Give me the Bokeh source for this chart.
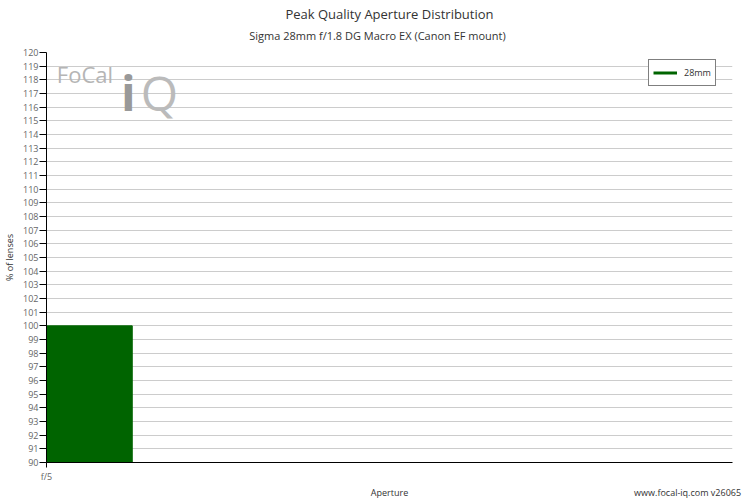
from bokeh.plotting import figure
from bokeh.models import (Legend, LegendItem, Label, FixedTicker,
                          ColumnDataSource, Range1d, LinearAxis)
from bokeh.embed import file_html
from bokeh.resources import INLINE

# Data
apertures = ["f/5"]
aperture_pos = [0]
percent = [100]
y_start, y_end = 90, 120
x_end = 8

title_text = "Peak Quality Aperture Distribution"
subtitle_text = "Sigma 28mm f/1.8 DG Macro EX (Canon EF mount)"
x_label = "Aperture"
footer_text = "www.focal-iq.com  v26065"
FONT = "Open Sans"

src = ColumnDataSource(data=dict(
    left=aperture_pos,
    right=[a + 1 for a in aperture_pos],
    top=percent,
    bottom=[y_start] * len(percent),
))

p = figure(frame_width=686, frame_height=410, output_backend="svg", toolbar_location=None,
           x_range=Range1d(0, x_end), y_range=Range1d(y_start, y_end),
           min_border_left=0, min_border_right=12, min_border_top=0,
           min_border_bottom=0)
p.outline_line_color = None
p.background_fill_color = "white"
p.border_fill_color = "white"

# main title
p.title.text = title_text
p.title.text_font = FONT
p.title.text_font_size = "13px"
p.title.text_font_style = "normal"
p.title.text_color = "#333333"
p.title.align = "center"
p.title.offset = -12
p.title.standoff = 4

bars = p.quad(left="left", right="right", top="top", bottom="bottom", source=src,
              fill_color="#006400", line_color="#006400", line_width=1)

# y axis
yax = p.yaxis[0]
yax.ticker = FixedTicker(ticks=list(range(y_start, y_end + 1)))
yax.axis_label = "% of lenses"
yax.axis_label_text_font = FONT
yax.axis_label_text_font_size = "9px"
yax.axis_label_text_font_style = "normal"
yax.axis_label_text_color = "#333333"
yax.axis_label_standoff = 4
yax.major_label_text_font = FONT
yax.major_label_text_font_size = "9px"
yax.major_label_text_color = "#666666"
yax.major_label_standoff = 1
yax.major_tick_out = 7
yax.major_tick_in = 0
yax.minor_tick_out = 0
yax.minor_tick_in = 0
yax.axis_line_color = "black"
yax.major_tick_line_color = "black"

# x axis
xax = p.xaxis[0]
xax.ticker = FixedTicker(ticks=aperture_pos)
xax.major_label_overrides = {pos: lab for pos, lab in zip(aperture_pos, apertures)}
xax.major_label_text_font = FONT
xax.major_label_text_font_size = "9px"
xax.major_label_text_color = "#666666"
xax.major_label_standoff = 2
xax.major_tick_out = 5
xax.major_tick_in = 0
xax.minor_tick_out = 0
xax.minor_tick_in = 0
xax.axis_line_color = "black"


def text_axis(ticks, labels, size, color, standoff):
    # an axis with no line or ticks, used only to place a row of texts
    return LinearAxis(ticker=FixedTicker(ticks=ticks),
                      major_label_overrides=dict(zip(ticks, labels)),
                      axis_line_color=None, major_tick_line_color=None,
                      minor_tick_line_color=None, major_tick_out=0, major_tick_in=0,
                      minor_tick_out=0, minor_tick_in=0, major_label_standoff=standoff,
                      major_label_text_font=FONT, major_label_text_font_size=size,
                      major_label_text_color=color)


# subtitle row, centred on the canvas like the title
sub_pos = [x_end * (367 - 36) / 686]
p.add_layout(text_axis(sub_pos, [subtitle_text], "11px", "#333333", 10), "above")

# row below the axis: axis title and site footer on one line
label_pos = [4.0, 7.49]
p.add_layout(text_axis(label_pos, [x_label, footer_text], "9px", "#333333", 0), "below")

# grid
p.xgrid.grid_line_color = None
p.ygrid.grid_line_color = "#cccccc"
p.ygrid.ticker = yax.ticker

# legend
line_r = p.line(x="left", y="top", source=src, line_color="#006400", line_width=3)
legend = Legend(items=[LegendItem(label="28mm", renderers=[line_r])],
                location=(602, 376), border_line_color="black", border_line_width=1,
                label_text_font=FONT, label_text_font_size="9px",
                label_text_color="#333333", glyph_width=24, glyph_height=17,
                label_height=17, label_standoff=7, padding=4, spacing=0, margin=0,
                background_fill_alpha=1.0)
p.add_layout(legend)

# FoCal iQ logo watermark
p.add_layout(Label(x=0.12, y=117.3, text="FoCal", text_font=FONT,
                   text_font_size="22px", text_color="#b5b5b5"))
p.add_layout(Label(x=0.87, y=114.7, text="i", text_font=FONT,
                   text_font_size="48px", text_font_style="bold", text_color="#999999"))
p.add_layout(Label(x=1.1, y=114.7, text="Q", text_font=FONT,
                   text_font_size="48px", text_color="#bbbbbb"))

open("out.html", "w").write(file_html(p, INLINE))
